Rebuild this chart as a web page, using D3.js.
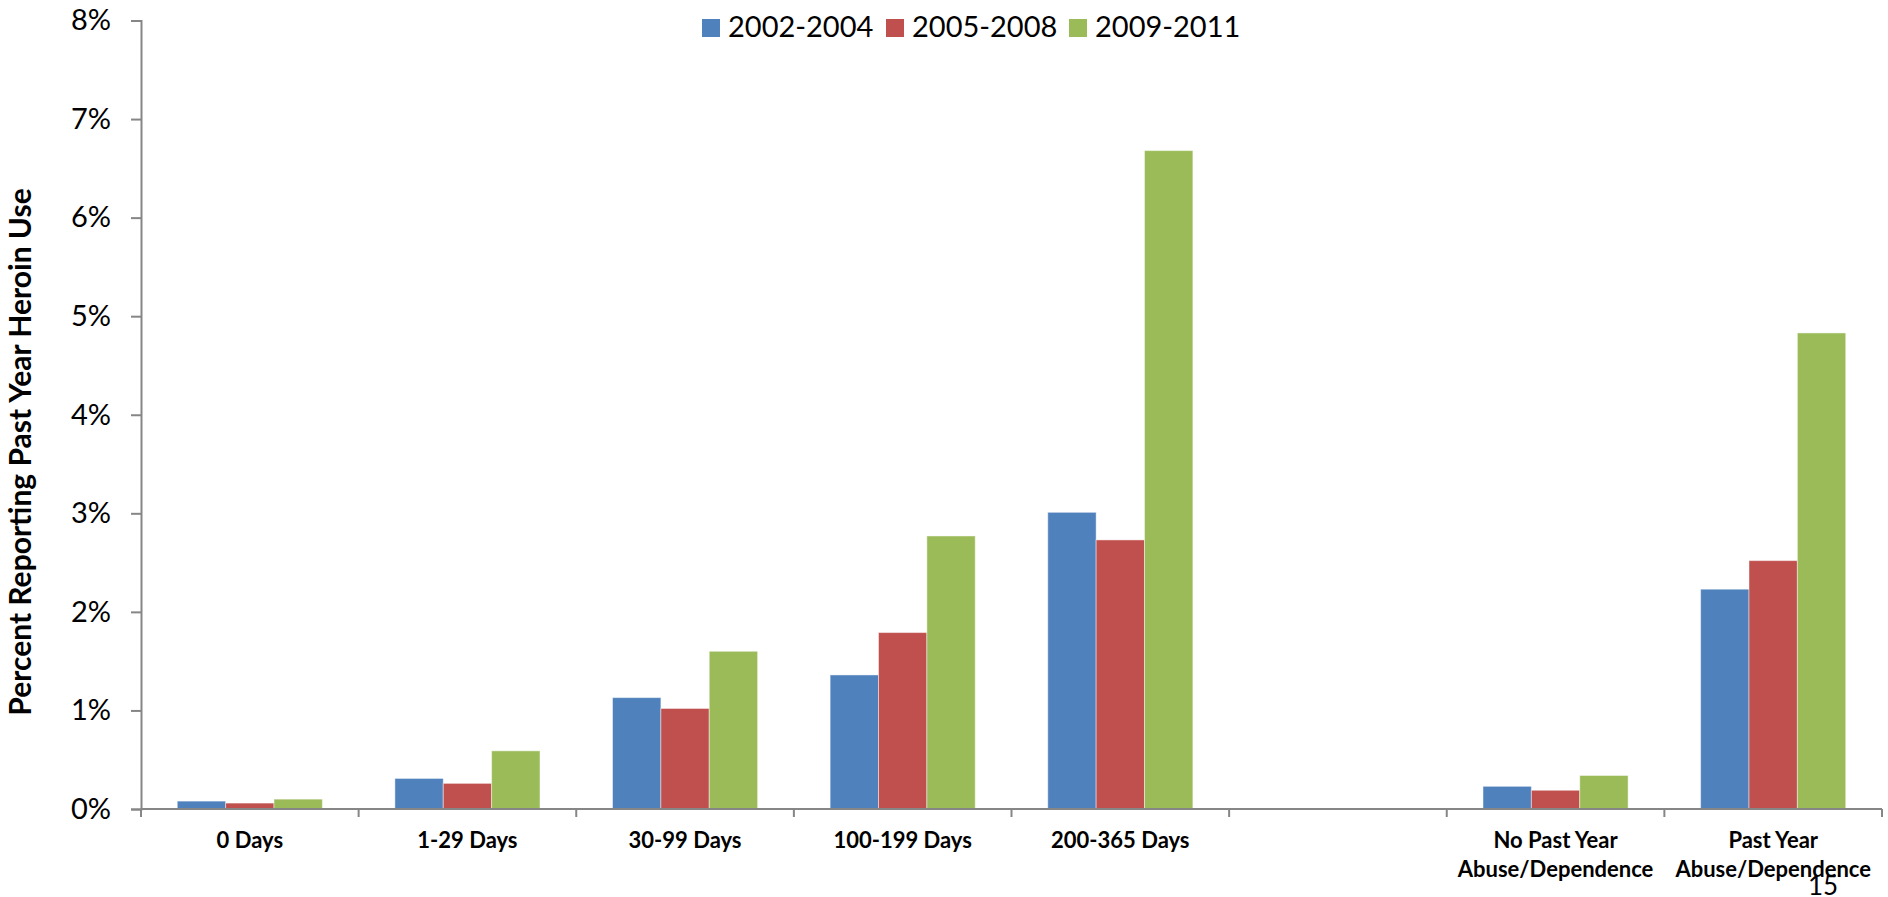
<!DOCTYPE html>
<html>
<head>
<meta charset="utf-8">
<script src="https://cdn.jsdelivr.net/npm/d3@7"></script>
<style>
  body { margin: 0; background: #fff; }
  text { font-family: Lato, "Liberation Sans", sans-serif; fill: #000; }
</style>
</head>
<body>
<div id="chart"></div>
<script>
// categories (the empty one is the gap slot in the original)
const categories = ["0 Days", "1-29 Days", "30-99 Days", "100-199 Days", "200-365 Days", "", "No Past Year\nAbuse/Dependence", "Past Year\nAbuse/Dependence"];
const series = ["2002-2004", "2005-2008", "2009-2011"];
const colors = ["#4F81BD", "#C0504D", "#9BBB59"];

// values in percent, null = no bar
const values2002 = [0.08, 0.31, 1.13, 1.36, 3.01, null, 0.23, 2.23];
const values2005 = [0.06, 0.26, 1.02, 1.79, 2.73, null, 0.19, 2.52];
const values2009 = [0.10, 0.59, 1.60, 2.77, 6.68, null, 0.34, 4.83];
const yTicks = [0, 1, 2, 3, 4, 5, 6, 7, 8];

const allValues = [values2002, values2005, values2009];

const width = 1888;
const height = 897;
const plotLeft = 141, plotRight = 1882, plotTop = 20.5, plotBottom = 809;

const svg = d3.select("#chart")
    .append("svg")
    .attr("width", width)
    .attr("height", height);

const scaleX = d3.scaleBand()
    .domain(d3.range(categories.length))
    .range([plotLeft, plotRight])
    .padding(0);

const bw = scaleX.bandwidth();
const scaleX1 = d3.scaleBand()
    .domain(series)
    .range([bw / 6, bw * 5 / 6])
    .padding(0);

const scaleY = d3.scaleLinear()
    .domain([0, 8])
    .range([plotBottom, plotTop]);

// bars
series.forEach((s, si) => {
    const rows = allValues[si]
        .map((v, i) => ({ i: i, v: v }))
        .filter(d => d.v !== null);
    svg.append("g")
        .selectAll("rect")
        .data(rows)
        .enter()
        .append("rect")
        .attr("x", d => scaleX(d.i) + scaleX1(s))
        .attr("y", d => scaleY(d.v))
        .attr("width", scaleX1.bandwidth())
        .attr("height", d => plotBottom - scaleY(d.v))
        .attr("fill", colors[si])
        .attr("stroke", "rgba(255,255,255,0.45)")
        .attr("stroke-width", 1);
});

// y axis
const yAxis = d3.axisLeft(scaleY)
    .tickValues(yTicks)
    .tickFormat(d => d + "%")
    .tickSize(10)
    .tickPadding(20);
const gy = svg.append("g")
    .attr("transform", `translate(${plotLeft}, 0)`)
    .call(yAxis);
gy.select(".domain").attr("stroke", "#868686").attr("stroke-width", 2);
gy.selectAll(".tick line").attr("stroke", "#868686").attr("stroke-width", 2);
gy.selectAll(".tick text")
    .attr("font-size", 29)
    .style("font-family", "Lato, sans-serif")
    .attr("fill", "#000");

// x axis: line + ticks at band edges
const gx = svg.append("g");
gx.append("line")
    .attr("x1", plotLeft).attr("x2", plotRight)
    .attr("y1", plotBottom).attr("y2", plotBottom)
    .attr("stroke", "#868686").attr("stroke-width", 2);
gx.selectAll(".xtick")
    .data(d3.range(categories.length + 1))
    .enter()
    .append("line")
    .attr("x1", i => plotLeft + i * bw)
    .attr("x2", i => plotLeft + i * bw)
    .attr("y1", plotBottom)
    .attr("y2", plotBottom + 8)
    .attr("stroke", "#868686").attr("stroke-width", 2);

const labels = gx.selectAll(".xlabel")
    .data(categories)
    .enter()
    .append("text")
    .attr("text-anchor", "middle")
    .attr("font-size", 22)
    .attr("font-weight", "bold")
    .attr("transform", (d, i) => `translate(${scaleX(i) + bw / 2}, 848)`);
labels.each(function (d) {
    const parts = d.split("\n");
    d3.select(this).selectAll("tspan")
        .data(parts)
        .enter()
        .append("tspan")
        .attr("x", 0)
        .attr("y", (p, j) => j * 29)
        .text(p => p);
});

// y title
svg.append("text")
    .attr("transform", `translate(31, 452) rotate(-90)`)
    .attr("text-anchor", "middle")
    .attr("font-size", 30)
    .attr("font-weight", "bold")
    .text("Percent Reporting Past Year Heroin Use");

// legend
const legendX = [702, 886, 1069];
const legend = svg.append("g");
series.forEach((s, i) => {
    const g = legend.append("g").attr("transform", `translate(${legendX[i]}, 19)`);
    g.append("rect")
        .attr("width", 18).attr("height", 18)
        .attr("fill", colors[i]);
    g.append("text")
        .attr("x", 26)
        .attr("y", 18)
        .attr("font-size", 29)
        .text(s);
});

// slide number
svg.append("text")
    .attr("x", 1808)
    .attr("y", 895)
    .attr("font-size", 26)
    .text("15");
</script>
</body>
</html>
